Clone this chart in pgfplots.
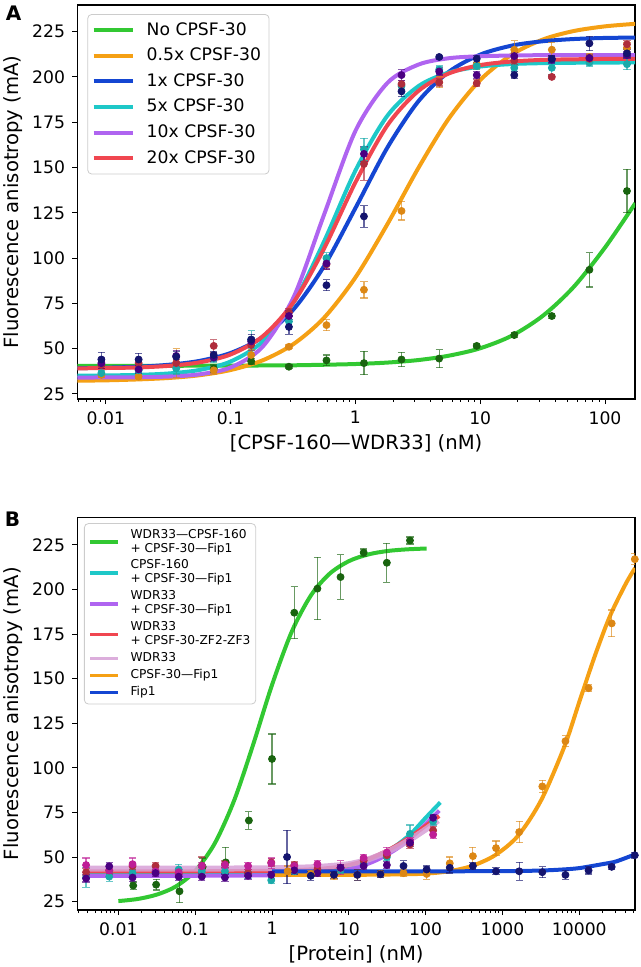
\documentclass[border=0pt]{standalone}
\usepackage{fontspec}
\setmainfont{DejaVu Sans}
\usepackage{pgfplots}
\pgfplotsset{compat=1.18}

% fit lines
\definecolor{lgreen}{RGB}{50,200,50}
\definecolor{lorange}{RGB}{245,160,20}
\definecolor{lblue}{RGB}{20,70,210}
\definecolor{lcyan}{RGB}{30,200,200}
\definecolor{lpurple}{RGB}{175,100,240}
\definecolor{lred}{RGB}{240,70,80}
\definecolor{lpink}{RGB}{215,160,215}
% data points
\definecolor{dgreen}{RGB}{25,100,15}
\definecolor{dorange}{RGB}{220,135,20}
\definecolor{dnavy}{RGB}{20,20,110}
\definecolor{dcyan}{RGB}{25,170,170}
\definecolor{dindigo}{RGB}{75,0,130}
\definecolor{dred}{RGB}{175,45,60}
\definecolor{dmagenta}{RGB}{190,30,150}

\pgfkeys{/pgf/number format/1000 sep={},/pgf/number format/assume math mode=true}
\pgfplotsset{
  panel/.style={scale only axis,width=278.85pt,height=197pt,
    log ticks with fixed point,
    tick align=outside,tick pos=left,major tick length=2.6pt,minor tick length=1.5pt,
    axis line style={line width=0.6pt},every tick/.style={black,line width=0.5pt},
    ytick={25,50,...,225},
    tick label style={font=\fontsize{8.6}{10}\selectfont},
    ylabel style={at={(axis description cs:-0.116,0.5)},rotate=0,anchor=center,
      font=\fontsize{9.8}{11}\selectfont},
    ylabel={Fluorescence anisotropy (mA)},
    legend cell align=left},
  fitline/.style={line width=2pt,smooth},
  dots/.style={only marks,mark=*,mark size=1.75pt,forget plot,
    error bars/y dir=both,error bars/y explicit,
    error bars/error bar style={line width=0.6pt,opacity=0.65},
    error bars/error mark options={rotate=90,line width=0.6pt,mark size=1.8pt,opacity=0.65}},
}

\begin{document}
\begin{tikzpicture}
\useasboundingbox (0,0) rectangle (320.5pt,483.5pt);

% ---------------- panel A ----------------
\begin{semilogxaxis}[panel,at={(38.65pt,284pt)},anchor=south west,
  xmin=0.0059,xmax=174,ymin=22.2,ymax=239.7,
  xlabel={[CPSF-160—WDR33] (nM)},
  xlabel style={at={(axis description cs:0.5,-0.112)},anchor=center,font=\fontsize{9.8}{11}\selectfont},
  legend style={at={(0.018,0.977)},anchor=north west,draw=black!20,rounded corners=2pt,
    fill=white,font=\fontsize{8.6}{10}\selectfont,row sep=0.9pt,inner sep=2pt},
  legend image code/.code={\draw[#1,line width=2pt] (0pt,0pt) -- (19.5pt,0pt);\path (23.5pt,0pt);}]

\addplot[fitline,lgreen] coordinates {(0.0059,40.5) (0.01,40.5) (0.018,40.5) (0.032,40.5) (0.056,40.6) (0.1,40.6) (0.18,40.7) (0.32,40.8) (0.56,41.1) (1,41.5) (1.8,42.3) (3.2,43.7) (5.6,46.1) (10,50.2) (18,57.2) (32,68.3) (56,84.0) (100,105.8) (175,130.3)};
\addplot[fitline,lorange] coordinates {(0.0059,32.3) (0.01,32.5) (0.018,33.0) (0.032,33.8) (0.056,35.3) (0.1,38.2) (0.18,43.5) (0.32,52.6) (0.56,67.0) (1,89.3) (1.8,118.6) (3.2,149.8) (5.6,177.0) (10,198.3) (18,212.4) (32,220.7) (56,225.3) (100,227.9) (175,229.3)};
\addplot[fitline,lblue] coordinates {(0.0059,39.2) (0.01,39.5) (0.018,40.0) (0.032,41.1) (0.056,43.2) (0.1,47.6) (0.18,56.3) (0.32,71.8) (0.56,95.5) (1,127.6) (1.8,160.9) (3.2,186.6) (5.6,202.8) (10,212.3) (18,217.3) (32,219.7) (56,220.9) (100,221.5) (175,221.7)};
\addplot[fitline,lcyan] coordinates {(0.0059,35.1) (0.01,35.2) (0.018,35.5) (0.032,36.3) (0.056,38.2) (0.1,42.9) (0.18,53.8) (0.32,75.6) (0.56,109.1) (1,148.3) (1.8,178.5) (3.2,194.9) (5.6,202.4) (10,205.7) (18,207.1) (32,207.6) (56,207.8) (100,207.9) (175,208.0)};
\addplot[fitline,lpurple] coordinates {(0.0059,34.0) (0.01,34.1) (0.018,34.2) (0.032,34.6) (0.056,35.8) (0.1,39.6) (0.18,51.0) (0.32,78.5) (0.56,123.9) (1,170.2) (1.8,196.6) (3.2,206.8) (5.6,210.3) (10,211.4) (18,211.8) (32,212.0) (56,212.0) (100,212.0) (175,212.0)};
\addplot[fitline,lred] coordinates {(0.0059,39.1) (0.01,39.3) (0.018,39.6) (0.032,40.5) (0.056,42.4) (0.1,46.8) (0.18,56.7) (0.32,75.7) (0.56,105.2) (1,141.8) (1.8,173.2) (3.2,192.3) (5.6,201.9) (10,206.5) (18,208.5) (32,209.4) (56,209.7) (100,209.9) (175,209.9)};
\legend{No CPSF-30,0.5x CPSF-30,1x CPSF-30,5x CPSF-30,10x CPSF-30,20x CPSF-30}

\addplot[dgreen,dots] coordinates {(0.0732,39) +- (0,2) (0.146,43) +- (0,1.5) (0.293,40) +- (0,1) (0.586,43.5) +- (0,3) (1.17,42) +- (0,6.5) (2.34,44) +- (0,4) (4.69,44.5) +- (0,5) (9.38,51.5) +- (0,1) (18.75,57.5) +- (0,1.5) (37.5,68) +- (0,1.5) (75,93.5) +- (0,9.5) (150,137) +- (0,12)};
\addplot[dorange,dots] coordinates {(0.0092,35.5) +- (0,1.5) (0.0183,34.5) +- (0,1) (0.0366,42) +- (0,8) (0.0732,38) +- (0,2) (0.146,46.5) +- (0,3) (0.293,51) +- (0,1) (0.586,63) +- (0,3) (1.17,82.5) +- (0,4.5) (2.34,126) +- (0,5) (4.69,197) +- (0,3) (9.38,207) +- (0,3) (18.75,215) +- (0,5) (37.5,215) +- (0,4) (75,211) +- (0,2) (150,216) +- (0,3)};
\addplot[dcyan,dots] coordinates {(0.0092,36.5) +- (0,1.5) (0.0183,38) +- (0,1.5) (0.0366,39) +- (0,3) (0.0732,44.5) +- (0,2) (0.146,55) +- (0,5) (0.293,65) +- (0,3) (0.586,100) +- (0,3) (1.17,160) +- (0,6) (2.34,195) +- (0,2) (4.69,204) +- (0,2) (9.38,206) +- (0,2) (18.75,205) +- (0,2) (37.5,205) +- (0,4) (75,208) +- (0,2) (150,207) +- (0,3)};
\addplot[dred,dots] coordinates {(0.0092,41) +- (0,2) (0.0183,42) +- (0,2) (0.0366,42) +- (0,2) (0.0732,51.5) +- (0,3.5) (0.146,52) +- (0,3) (0.293,70) +- (0,2) (0.586,96.5) +- (0,3) (1.17,152) +- (0,9) (2.34,196) +- (0,2) (4.69,197) +- (0,2) (9.38,196.5) +- (0,2) (18.75,209) +- (0,2) (37.5,200) +- (0,1) (75,210) +- (0,2) (150,218) +- (0,2)};
\addplot[dindigo,dots] coordinates {(0.0092,42) +- (0,3) (0.0183,38.5) +- (0,2) (0.0366,46) +- (0,3) (0.0732,45) +- (0,2) (0.146,54) +- (0,2) (0.293,68) +- (0,3) (0.586,97) +- (0,3) (1.17,157.5) +- (0,4) (2.34,201) +- (0,3) (4.69,203) +- (0,2) (9.38,201) +- (0,2) (18.75,211.5) +- (0,2) (37.5,209.5) +- (0,2) (75,210.5) +- (0,2) (150,212) +- (0,2)};
\addplot[dnavy,dots] coordinates {(0.0092,44) +- (0,4) (0.0183,44) +- (0,3.5) (0.0366,45.5) +- (0,3) (0.0732,46.5) +- (0,2) (0.146,55) +- (0,3) (0.293,62) +- (0,4) (0.586,85) +- (0,3) (1.17,123) +- (0,6) (2.34,192) +- (0,3) (4.69,211) +- (0,1) (9.38,210) +- (0,2) (18.75,201) +- (0,2) (37.5,210) +- (0,2) (75,218.5) +- (0,4) (150,213) +- (0,2)};
\end{semilogxaxis}

% ---------------- panel B ----------------
\begin{semilogxaxis}[panel,at={(38.65pt,28.5pt)},anchor=south west,height=196.35pt,
  xmin=0.00292,xmax=53100,ymin=20.3,ymax=240.5,
  xlabel={[Protein] (nM)},
  xlabel style={at={(axis description cs:0.5,-0.114)},anchor=center,font=\fontsize{9.8}{11}\selectfont},
  legend style={at={(0.012,0.985)},anchor=north west,draw=black!20,rounded corners=2pt,
    fill=white,font=\fontsize{6.1}{7}\selectfont,row sep=1pt,inner sep=2pt,
    nodes={inner sep=0.7pt},cells={align=left}},
  legend image code/.code={\draw[#1,line width=1.8pt] (0pt,0pt) -- (14pt,0pt);\path (18pt,0pt);}]

\addplot[fitline,lgreen] coordinates {(0.01,25.3) (0.018,26.5) (0.032,29.0) (0.056,33.5) (0.1,42.2) (0.18,57.7) (0.32,81.5) (0.56,112.2) (1,146.5) (1.8,176.2) (3.2,196.6) (5.6,208.8) (10,215.9) (18,219.7) (32,221.6) (56,222.5) (103,223.0)};
\addplot[fitline,lcyan] coordinates {(0.0038,41) (0.01,41) (0.1,41) (1,41.3) (3,42) (6,43) (10,44.5) (16,47) (25,51) (40,56) (64,63) (100,72) (155,80.6)};
\addplot[fitline,lpurple] coordinates {(0.0038,39.5) (0.01,39.5) (0.1,39.5) (1,39.8) (3,40.5) (6,41.5) (10,43) (16,45.5) (25,49) (40,54) (64,60.5) (100,68.5) (150,76)};
\addplot[fitline,lred] coordinates {(0.0038,42) (0.01,42) (0.1,42) (1,42.3) (3,43) (6,44) (10,45.5) (16,48) (25,51.5) (40,56) (64,61.5) (100,67.5) (150,73)};
\addplot[fitline,lpink,line width=3pt,opacity=0.85] coordinates {(0.0038,43.5) (0.01,43.5) (0.1,43.5) (1,43.7) (3,44.2) (6,45) (10,46) (16,48) (25,51) (40,55) (64,60) (100,65.5) (145,70.5)};
\addplot[fitline,lorange] coordinates {(1,40) (10,40) (50,40.3) (100,40.7) (200,42) (400,45) (800,51) (1600,62) (3200,82) (6400,112) (10000,137) (16000,163) (25000,185) (40000,203) (53100,212)};
\addplot[fitline,lblue] coordinates {(1,42) (100,42) (1000,42.1) (3000,42.4) (6000,43) (10000,43.8) (20000,46) (30000,47.5) (53100,51.5)};
\legend{WDR33—CPSF-160\\+ CPSF-30—Fip1,CPSF-160\\+ CPSF-30—Fip1,WDR33\\+ CPSF-30—Fip1,WDR33\\+ CPSF-30-ZF2-ZF3,WDR33,CPSF-30—Fip1,Fip1}

\addplot[dgreen,dots] coordinates {(0.0156,34) +- (0,2) (0.031,34.5) +- (0,3) (0.0625,30.8) +- (0,6.5) (0.125,44.5) +- (0,5) (0.25,47) +- (0,8.5) (0.5,70.5) +- (0,5) (1,105) +- (0,14) (1.95,187) +- (0,14.5) (3.9,200.5) +- (0,17.5) (7.8,207) +- (0,12.5) (15.6,220.7) +- (0,2) (31.25,215) +- (0,11) (62.5,227.5) +- (0,2)};
\addplot[dcyan,dots] coordinates {(0.0038,38.5) +- (0,5.5) (0.0076,39) +- (0,2.5) (0.0153,41) +- (0,2) (0.0305,42) +- (0,2) (0.061,43) +- (0,3) (0.122,42) +- (0,2) (0.244,42) +- (0,2) (0.488,40) +- (0,2) (0.977,37) +- (0,2) (1.95,42) +- (0,2) (3.9,42) +- (0,2) (7.8,43) +- (0,2) (15.6,46) +- (0,2) (31.25,50) +- (0,2) (62.5,63) +- (0,5) (125,70) +- (0,2)};
\addplot[dred,dots] coordinates {(0.0038,41.5) +- (0,2) (0.0076,42.5) +- (0,2) (0.0153,45) +- (0,2) (0.0305,45) +- (0,2) (0.061,40.5) +- (0,2) (0.122,45) +- (0,5) (0.244,46) +- (0,2) (0.488,41) +- (0,2) (0.977,47) +- (0,2) (1.95,45.5) +- (0,2) (3.9,43) +- (0,2) (7.8,44) +- (0,2) (15.6,48) +- (0,2) (31.25,51) +- (0,2) (62.5,57) +- (0,2) (125,65) +- (0,2)};
\addplot[dmagenta,dots] coordinates {(0.0038,45.5) +- (0,4) (0.0076,42.5) +- (0,2) (0.0153,46) +- (0,3.5) (0.0305,42) +- (0,2) (0.061,41.5) +- (0,2) (0.122,45) +- (0,2) (0.244,45.5) +- (0,2) (0.488,45) +- (0,2) (0.977,46.5) +- (0,3) (1.95,45) +- (0,2) (3.9,46) +- (0,2) (7.8,44) +- (0,4) (15.6,49.5) +- (0,2) (31.25,52.5) +- (0,3) (62.5,59) +- (0,2) (125,62.5) +- (0,2)};
\addplot[dindigo,dots] coordinates {(0.0038,38) +- (0,2) (0.0076,44.8) +- (0,2) (0.0153,38.5) +- (0,2) (0.0305,41) +- (0,2) (0.061,39) +- (0,2) (0.122,39) +- (0,2) (0.244,38.5) +- (0,2) (0.488,39.5) +- (0,2) (0.977,40) +- (0,2) (1.95,42.5) +- (0,2) (3.9,41) +- (0,2) (7.8,44) +- (0,2) (15.6,45) +- (0,2) (31.25,45.5) +- (0,2) (62.5,58) +- (0,2) (125,72) +- (0,2)};
\addplot[dorange,dots] coordinates {(1.6,42) +- (0,3) (3.2,40.5) +- (0,2) (6.4,39.5) +- (0,2) (12.9,40) +- (0,3) (25.8,40.5) +- (0,2) (51.5,41) +- (0,2) (103,40.5) +- (0,3) (206,46.5) +- (0,3.5) (412,50.5) +- (0,5) (824,55) +- (0,4) (1650,64) +- (0,6) (3300,89.6) +- (0,3.5) (6600,115) +- (0,3) (13200,144.7) +- (0,2) (26400,181) +- (0,7.5) (52800,217) +- (0,3)};
\addplot[dnavy,dots] coordinates {(1.57,50) +- (0,15) (3.2,39.5) +- (0,2.5) (6.4,40) +- (0,2) (12.9,40) +- (0,3) (25.8,40.3) +- (0,2) (51.5,45) +- (0,3) (103,43) +- (0,2) (206,44) +- (0,3) (412,45) +- (0,2) (824,42) +- (0,2) (1650,42) +- (0,5) (3300,41.5) +- (0,3) (6600,40) +- (0,2.5) (13200,42.5) +- (0,2) (26400,44.5) +- (0,1.5) (52800,51) +- (0,1.5)};
\end{semilogxaxis}

\node[font=\bfseries\fontsize{10}{12}\selectfont] at (6.8pt,476.8pt) {A};
\node[font=\bfseries\fontsize{10}{12}\selectfont] at (6.3pt,224pt) {B};
\end{tikzpicture}
\end{document}
